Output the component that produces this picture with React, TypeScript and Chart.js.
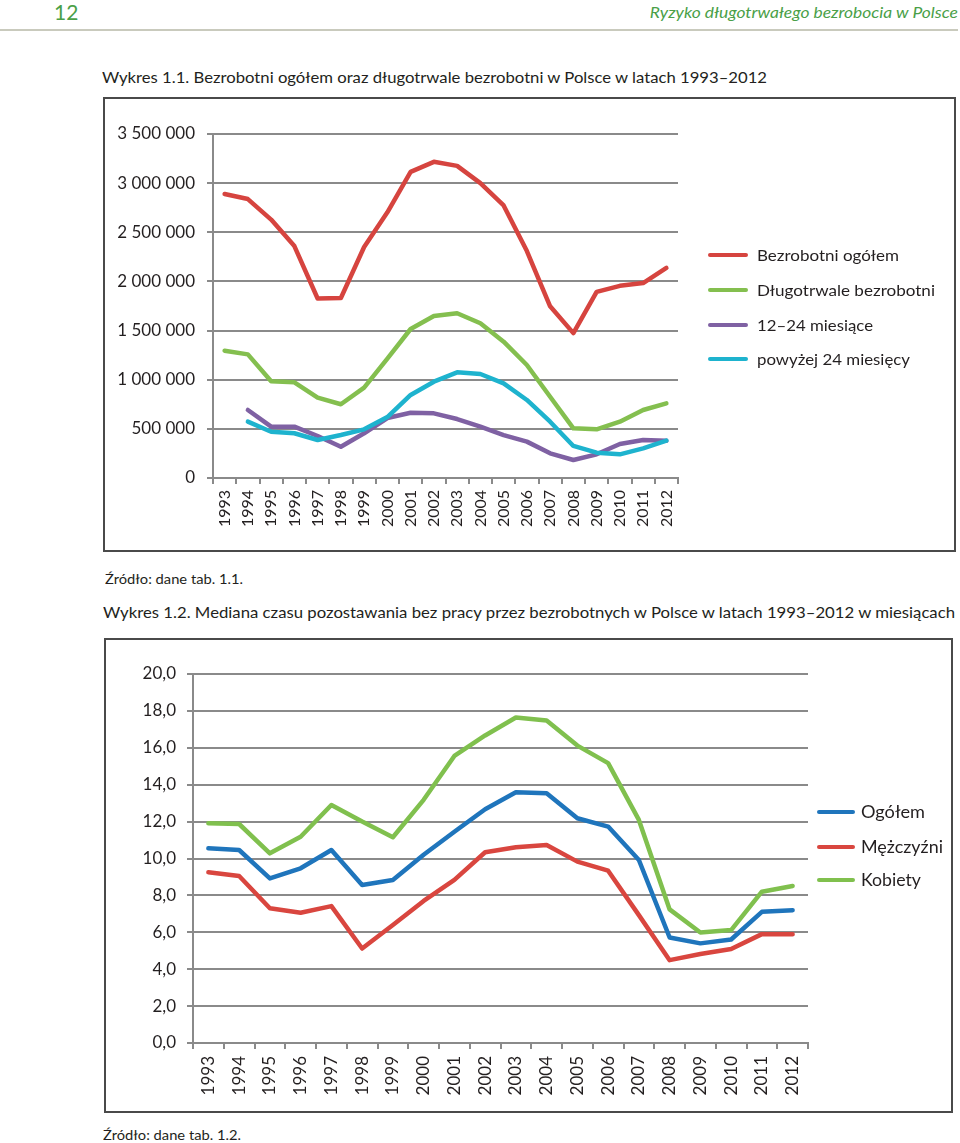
import React, { useEffect, useLayoutEffect, useRef } from 'react';
import { Chart, registerables } from 'chart.js';

Chart.register(...registerables);

// ---------- Data: Wykres 1.1 ----------
const YEARS = ['1993', '1994', '1995', '1996', '1997', '1998', '1999', '2000', '2001', '2002', '2003', '2004', '2005', '2006', '2007', '2008', '2009', '2010', '2011', '2012'];
const SERIES1_LABELS = ['Bezrobotni ogółem', 'Długotrwale bezrobotni', '12–24 miesiące', 'powyżej 24 miesięcy'];
const TOTAL_UNEMPLOYED = [2890000, 2838000, 2629000, 2360000, 1826000, 1831000, 2350000, 2703000, 3115000, 3217000, 3176000, 3000000, 2773000, 2309000, 1747000, 1474000, 1893000, 1955000, 1983000, 2137000];
const LONG_TERM = [1295000, 1258000, 985000, 973000, 817000, 750000, 919000, 1215000, 1516000, 1648000, 1676000, 1574000, 1387000, 1150000, 827000, 505000, 495000, 573000, 692000, 760000];
const MONTHS_12_24 = [null, 692000, 522000, 522000, 427000, 318000, 455000, 610000, 664000, 658000, 600000, 522000, 437000, 370000, 251000, 183000, 241000, 346000, 387000, 380000];
const OVER_24_MONTHS = [null, 573000, 471000, 455000, 387000, 437000, 495000, 620000, 845000, 980000, 1075000, 1058000, 963000, 794000, 573000, 326000, 258000, 241000, 302000, 380000];
const Y1_TICKS = [0, 500000, 1000000, 1500000, 2000000, 2500000, 3000000, 3500000];
const COLORS1 = ['#D6443F', '#84BF4F', '#7F61A3', '#1EB3CE'];

// ---------- Data: Wykres 1.2 ----------
const SERIES2_LABELS = ['Ogółem', 'Mężczyźni', 'Kobiety'];
const MEDIAN_TOTAL = [10.55, 10.46, 8.92, 9.47, 10.46, 8.56, 8.83, 10.2, 11.45, 12.67, 13.59, 13.54, 12.18, 11.73, 9.92, 5.72, 5.4, 5.61, 7.11, 7.2];
const MEDIAN_MEN = [9.25, 9.05, 7.3, 7.06, 7.42, 5.12, 6.4, 7.7, 8.84, 10.34, 10.61, 10.73, 9.83, 9.34, 6.93, 4.49, 4.82, 5.09, 5.9, 5.9];
const MEDIAN_WOMEN = [11.91, 11.87, 10.28, 11.18, 12.9, 12.0, 11.15, 13.18, 15.56, 16.67, 17.64, 17.48, 16.12, 15.17, 12.09, 7.24, 5.99, 6.12, 8.2, 8.51];
const Y2_TICKS = [0, 2, 4, 6, 8, 10, 12, 14, 16, 18, 20];
const COLORS2 = ['#1F75BC', '#D9463F', '#80C04E'];

const GRID = '#8A8A8A';
const TEXT = '#231F20';
const FONT = 'Lato, "Open Sans", sans-serif';

const fmtThousands = (v: number) => String(Math.round(v)).replace(/\B(?=(\d{3})+(?!\d))/g, ' ');
const fmtDecimal = (v: number) => Number(v).toFixed(1).replace('.', ',');

type ChartSpec = {
  labels: string[];
  series: (number | null)[][];
  names: string[];
  colors: string[];
  yTicks: number[];
  fmt: (v: number) => string;
  yWidth: number;
  xHeight: number;
  padTop: number;
  padRight: number;
  yFont: number;
  xFont: number;
  yPad: number;
  xPad: number;
};

function LineChart({ spec, width, height, left, top }: { spec: ChartSpec; width: number; height: number; left: number; top: number }) {
  const ref = useRef<HTMLCanvasElement>(null);
  useEffect(() => {
    if (!ref.current) return;
    const n = spec.series.length;
    const chart = new Chart(ref.current, {
      type: 'line',
      data: {
        labels: spec.labels,
        datasets: spec.series.map((d, i) => ({
          label: spec.names[i],
          data: d,
          borderColor: spec.colors[i],
          backgroundColor: spec.colors[i],
          borderWidth: 4.5,
          pointRadius: 0,
          pointHoverRadius: 0,
          tension: 0,
          fill: false,
          spanGaps: false,
          borderCapStyle: 'round',
          borderJoinStyle: 'round',
          order: n - i,
        })),
      },
      options: {
        responsive: false,
        maintainAspectRatio: false,
        animation: false,
        devicePixelRatio: 1,
        events: [],
        layout: { padding: { left: 0, top: spec.padTop, right: spec.padRight, bottom: 0 } },
        plugins: { legend: { display: false }, tooltip: { enabled: false }, title: { display: false } },
        scales: {
          x: {
            type: 'category',
            offset: true,
            grid: { offset: true, drawOnChartArea: false, drawTicks: true, tickLength: 6, color: GRID, lineWidth: 2 },
            border: { display: true, color: GRID, width: 2 },
            ticks: {
              autoSkip: false,
              minRotation: 90,
              maxRotation: 90,
              padding: spec.xPad,
              color: TEXT,
              font: { family: FONT, size: spec.xFont },
            },
            afterFit: (s: any) => { s.height = spec.xHeight; },
          },
          y: {
            min: spec.yTicks[0],
            max: spec.yTicks[spec.yTicks.length - 1],
            grid: { color: GRID, lineWidth: 2, drawTicks: true, tickLength: 6 },
            border: { display: true, color: GRID, width: 2 },
            ticks: {
              padding: spec.yPad,
              color: TEXT,
              font: { family: FONT, size: spec.yFont },
              callback: (v: any) => spec.fmt(Number(v)),
            },
            afterBuildTicks: (s: any) => { s.ticks = spec.yTicks.map((v) => ({ value: v })); },
            afterFit: (s: any) => { s.width = spec.yWidth; },
          },
        },
      } as any,
    });
    return () => chart.destroy();
  }, [spec]);
  return (
    <canvas
      ref={ref}
      width={width}
      height={height}
      style={{ position: 'absolute', left, top, width, height, display: 'block' }}
    />
  );
}

function FitText({ text, left, right, top, width, size, color = TEXT, italic = false }: {
  text: string; left?: number; right?: number; top: number; width: number; size: number; color?: string; italic?: boolean;
}) {
  const ref = useRef<HTMLSpanElement>(null);
  useLayoutEffect(() => {
    const el = ref.current;
    if (!el) return;
    el.style.transform = 'none';
    const w = el.getBoundingClientRect().width;
    if (w > 0) el.style.transform = `scaleX(${width / w})`;
  }, [text, width, size]);
  return (
    <span
      ref={ref}
      style={{
        position: 'absolute',
        left,
        right,
        top,
        whiteSpace: 'nowrap',
        fontFamily: FONT,
        fontSize: size,
        lineHeight: `${size}px`,
        fontStyle: italic ? 'italic' : 'normal',
        color,
        transformOrigin: right != null ? 'right top' : 'left top',
      }}
    >
      {text}
    </span>
  );
}

function Legend({ names, colors, lineLeft, lineWidth, textLeft, centers, widths, size }: {
  names: string[]; colors: string[]; lineLeft: number; lineWidth: number; textLeft: number; centers: number[]; widths: number[]; size: number;
}) {
  return (
    <>
      {names.map((nm, i) => (
        <React.Fragment key={nm}>
          <div style={{ position: 'absolute', left: lineLeft, top: centers[i] - 2.25, width: lineWidth, height: 4.5, borderRadius: 2.25, background: colors[i] }} />
          <FitText text={nm} left={textLeft} top={centers[i] - 0.53 * size} width={widths[i]} size={size} />
        </React.Fragment>
      ))}
    </>
  );
}

const SPEC1: ChartSpec = {
  labels: YEARS,
  series: [TOTAL_UNEMPLOYED, LONG_TERM, MONTHS_12_24, OVER_24_MONTHS],
  names: SERIES1_LABELS,
  colors: COLORS1,
  yTicks: Y1_TICKS,
  fmt: fmtThousands,
  yWidth: 108,
  xHeight: 72,
  padTop: 35,
  padRight: 276,
  yFont: 17,
  xFont: 16,
  yPad: 12,
  xPad: 6,
};

const SPEC2: ChartSpec = {
  labels: YEARS,
  series: [MEDIAN_TOTAL, MEDIAN_MEN, MEDIAN_WOMEN],
  names: SERIES2_LABELS,
  colors: COLORS2,
  yTicks: Y2_TICKS,
  fmt: fmtDecimal,
  yWidth: 87,
  xHeight: 68,
  padTop: 34,
  padRight: 143,
  yFont: 17,
  xFont: 17,
  yPad: 11,
  xPad: 7,
};

export default function App() {
  const green = '#4A9F48';
  return (
    <div style={{ position: 'absolute', left: 0, top: 0, width: 960, height: 1143, background: '#fff', overflow: 'hidden' }}>
      {/* page header */}
      <span style={{ position: 'absolute', left: 54, top: 1.4, fontFamily: FONT, fontSize: 21, lineHeight: '21px', color: green }}>12</span>
      <FitText text="Ryzyko długotrwałego bezrobocia w Polsce" right={2} top={4.1} width={308} size={16} color={green} italic />
      <div style={{ position: 'absolute', left: 0, top: 29, width: 958, height: 1.5, background: '#C9CABD' }} />

      {/* Wykres 1.1 */}
      <FitText text="Wykres 1.1. Bezrobotni ogółem oraz długotrwale bezrobotni w Polsce w latach 1993–2012" left={102} top={69.1} width={665} size={16} />
      <div style={{ position: 'absolute', left: 103, top: 97, width: 853, height: 455, border: '2px solid #4A4A4A', boxSizing: 'border-box' }} />
      <LineChart spec={SPEC1} left={105} top={99} width={849} height={451} />
      <Legend names={SERIES1_LABELS} colors={COLORS1} lineLeft={708} lineWidth={40} textLeft={757} centers={[255, 290, 325, 359]} widths={[142, 178, 116, 153]} size={16} />
      <FitText text="Źródło: dane tab. 1.1." left={105} top={571.6} width={138} size={14} />

      {/* Wykres 1.2 */}
      <FitText text="Wykres 1.2. Mediana czasu pozostawania bez pracy przez bezrobotnych w Polsce w latach 1993–2012 w miesiącach" left={103} top={604.1} width={852} size={16} />
      <div style={{ position: 'absolute', left: 104, top: 638, width: 849, height: 475, border: '2px solid #4A4A4A', boxSizing: 'border-box' }} />
      <LineChart spec={SPEC2} left={106} top={640} width={845} height={471} />
      <Legend names={SERIES2_LABELS} colors={COLORS2} lineLeft={817} lineWidth={38} textLeft={861} centers={[812, 847, 880]} widths={[64, 82, 60]} size={17} />
      <FitText text="Źródło: dane tab. 1.2." left={103} top={1127.6} width={138} size={14} />
    </div>
  );
}
